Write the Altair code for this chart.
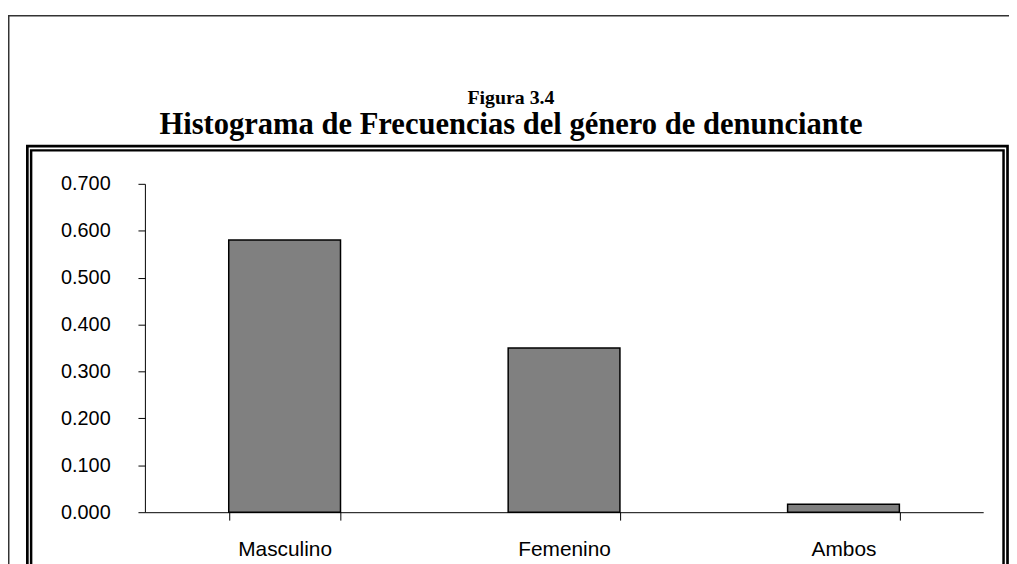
import altair as alt
import pandas as pd

# ---- data ----
categories = ["Masculino", "Femenino", "Ambos"]
frequencies = [0.580, 0.350, 0.017]
y_tick_values = [0.0, 0.1, 0.2, 0.3, 0.4, 0.5, 0.6, 0.7]
fig_label = "Figura  3.4"
title_text = "Histograma de Frecuencias del género de denunciante"

df = pd.DataFrame({"genero": categories, "frecuencia": frequencies})
one = pd.DataFrame({"k": [0]})

# ---- layout ----
PW, PH = 845, 331
PAD_L, PAD_T = 138, 175
TOT_W, TOT_H = 1009, 556
PAD_R = TOT_W - PAD_L - PW
PAD_B = TOT_H - PAD_T - PH
OX, OY = 8 + PAD_L, 8 + PAD_T  # page offset of plot origin


def px(v):
    return v - OX


def py(v):
    return v - OY


bars = alt.Chart(df).mark_bar(
    color="#808080", stroke="black", strokeWidth=1.5
).encode(
    x=alt.X(
        "genero:N",
        sort=categories,
        scale=alt.Scale(paddingInner=0.6, paddingOuter=0.3),
        axis=alt.Axis(
            title=None,
            labelAngle=0,
            tickBand="extent",
            domainColor="black",
            domainWidth=1,
            tickColor="black",
            tickSize=8,
            tickWidth=1,
            labelFont="Liberation Sans",
            labelFontSize=21,
            labelColor="black",
            labelPadding=19,
        ),
    ),
    y=alt.Y(
        "frecuencia:Q",
        scale=alt.Scale(domain=[0, 0.7], nice=False),
        axis=alt.Axis(
            title=None,
            values=y_tick_values,
            format=".3f",
            grid=False,
            domainColor="black",
            domainWidth=1,
            tickColor="black",
            tickSize=7,
            tickWidth=1,
            labelFont="Liberation Sans",
            labelFontSize=20,
            labelColor="black",
            labelPadding=28,
        ),
    ),
)

# outer thin frame: only its top and left sides are inside the picture
outer_top = alt.Chart(one).mark_rule(color="#333333", strokeWidth=1.5).encode(
    x=alt.value(px(8)), x2=alt.value(px(1030)),
    y=alt.value(py(13.5)),
)
outer_left = alt.Chart(one).mark_rule(color="#333333", strokeWidth=1.5).encode(
    x=alt.value(px(8.75)),
    y=alt.value(py(13)), y2=alt.value(py(600)),
)

frame_a = alt.Chart(one).mark_rect(
    fillOpacity=0, stroke="black", strokeWidth=2.7
).encode(
    x=alt.value(px(27.5)), x2=alt.value(px(1015.5)),
    y=alt.value(py(145)), y2=alt.value(py(600)),
)

frame_b = alt.Chart(one).mark_rect(
    fillOpacity=0, stroke="black", strokeWidth=2.5
).encode(
    x=alt.value(px(31.3)), x2=alt.value(px(1011.5)),
    y=alt.value(py(149.3)), y2=alt.value(py(600)),
)

fig_txt = alt.Chart(one).mark_text(
    font="Liberation Serif", fontWeight="bold", fontSize=20,
    color="black", align="center", baseline="alphabetic",
).encode(
    x=alt.value(px(515)), y=alt.value(py(102.5)), text=alt.value(fig_label)
)

title_txt = alt.Chart(one).mark_text(
    font="Liberation Serif", fontWeight="bold", fontSize=30.8,
    color="black", align="center", baseline="alphabetic",
).encode(
    x=alt.value(px(515)), y=alt.value(py(133)), text=alt.value(title_text)
)

chart = alt.layer(
    outer_top, outer_left, frame_a, frame_b, fig_txt, title_txt, bars
).properties(
    width=PW,
    height=PH,
    autosize=alt.AutoSizeParams(type="none"),
    padding={"left": PAD_L, "top": PAD_T, "right": PAD_R, "bottom": PAD_B},
    background="white",
).configure_view(strokeWidth=0)

chart.save("out.html", embed_options={"renderer": "svg", "actions": False})
